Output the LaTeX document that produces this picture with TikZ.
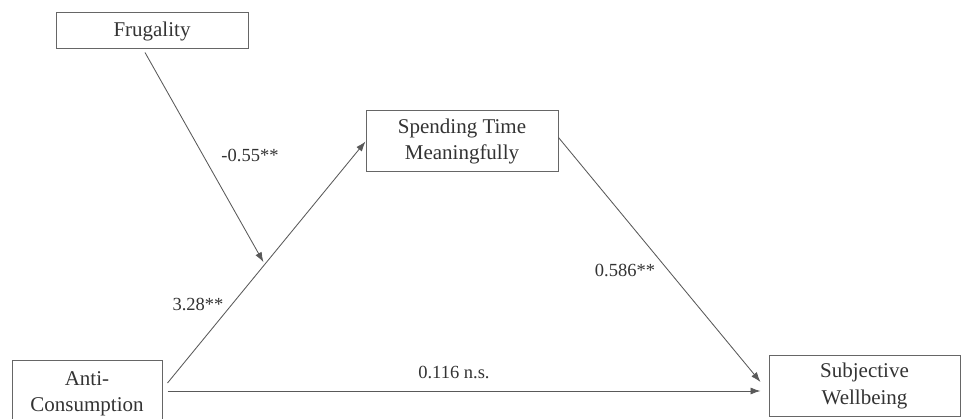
\documentclass[tikz,border=0pt]{standalone}
\usepackage{fontspec}
\setmainfont{Liberation Serif}
\usetikzlibrary{arrows.meta,calc}
\begin{document}
\begin{tikzpicture}[x=1pt,y=-1pt,
  box/.style={draw=black!60,line width=1pt,rectangle,inner sep=0pt,align=center,
    font=\fontsize{21}{26.5}\selectfont,text=black!80},
  conn/.style={draw=black!65,line width=0.85pt,-{Latex[length=10pt,width=7pt]}},
  lab/.style={font=\fontsize{18.5}{22}\selectfont,text=black!80,inner sep=0pt}]
\useasboundingbox (0,0) rectangle (961,419);
\node[box,minimum width=192pt,minimum height=36pt] (frug) at (152,31) {Frugality};
\node[box,minimum width=192pt,minimum height=61pt] (spend) at (462,141.5) {Spending Time\\Meaningfully};
\node[box,minimum width=191pt,minimum height=60pt] (subj) at (864.5,386) {Subjective\\Wellbeing};
\node[box,minimum width=150pt,minimum height=66pt] (anti) at (87,394) {Anti-\\Consumption};
\coordinate (astart) at ([xshift=5pt,yshift=11pt]anti.east);
\coordinate (hstart) at ([xshift=5pt,yshift=3pt]anti.east);
\draw[conn] (astart) -- (spend.west);
\coordinate (mid) at ($(astart)!0.5!(spend.west)$);
\draw[conn] ([xshift=-7pt,yshift=-3pt]frug.south) -- ([xshift=-3pt]mid);
\draw[conn,shorten >=8pt] (hstart) -- (hstart -| subj.west);
\draw[conn] ([yshift=4pt]spend.east) -- ([xshift=-8pt,yshift=4pt]subj.west);
\node[lab] (l1) at (250,155) {-0.55**};
\node[lab] (l2) at (198,304) {3.28**};
\node[lab] (l3) at (625,270) {0.586**};
\node[lab] (l4) at (454,372) {0.116 n.s.};
\end{tikzpicture}
\end{document}
